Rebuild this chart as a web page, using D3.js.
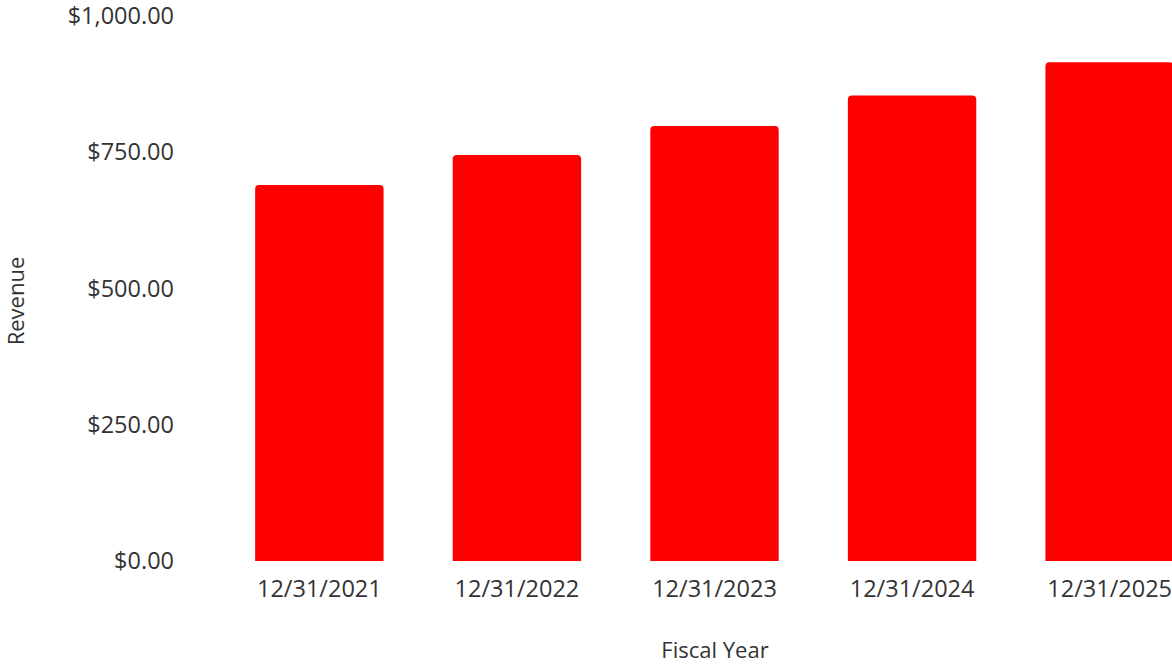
<!DOCTYPE html>
<html>
<head>
<meta charset="utf-8">
<script src="https://cdn.jsdelivr.net/npm/d3@7"></script>
<style>
  html, body { margin: 0; padding: 0; background: #fff; overflow: hidden; }
  text { font-family: "Open Sans", "Noto Sans", sans-serif; fill: #333; }
</style>
</head>
<body>
<svg id="chart" width="1172" height="666"></svg>
<script>
const categories = ["12/31/2021", "12/31/2022", "12/31/2023", "12/31/2024", "12/31/2025"];
const revenue = [690, 745, 798, 854, 915];
const yTicks = [0, 250, 500, 750, 1000];

const svg = d3.select("#chart");
const x = d3.scaleBand().domain(categories).range([186, 1243]).paddingInner(0.35).paddingOuter(0.35);
const y = d3.scaleLinear().domain([0, 1000]).range([561, 16]);
const fmt = v => "$" + d3.format(",.2f")(v);
const r = 4;
const font = '"Open Sans", "Noto Sans", sans-serif';

// bars with rounded top corners
svg.append("g").selectAll("path").data(categories).join("path")
  .attr("fill", "#ff0000")
  .attr("d", (c, i) => {
    const x0 = x(c), w = x.bandwidth(), y0 = y(revenue[i]), yb = y(0);
    return `M${x0},${yb}V${y0 + r}Q${x0},${y0} ${x0 + r},${y0}H${x0 + w - r}Q${x0 + w},${y0} ${x0 + w},${y0 + r}V${yb}Z`;
  });

// y axis
const yAxis = svg.append("g").attr("transform", "translate(174,0)")
  .call(d3.axisLeft(y).tickValues(yTicks).tickFormat(fmt).tickSize(0).tickPadding(0));
yAxis.select(".domain").remove();
yAxis.selectAll("text").style("font-size", "23.5px").attr("fill", "#333").style("font-family", font);

// x axis
const xAxis = svg.append("g").attr("transform", "translate(0,561)")
  .call(d3.axisBottom(x).tickSize(0).tickPadding(19));
xAxis.select(".domain").remove();
xAxis.selectAll("text").style("font-size", "23.5px").attr("fill", "#333").style("font-family", font);

// axis titles
svg.append("text").attr("x", 715).attr("y", 658).attr("text-anchor", "middle")
  .style("font-size", "22px").text("Fiscal Year");
svg.append("text").attr("transform", "translate(24,301) rotate(-90)").attr("text-anchor", "middle")
  .style("font-size", "22px").text("Revenue");
</script>
</body>
</html>
